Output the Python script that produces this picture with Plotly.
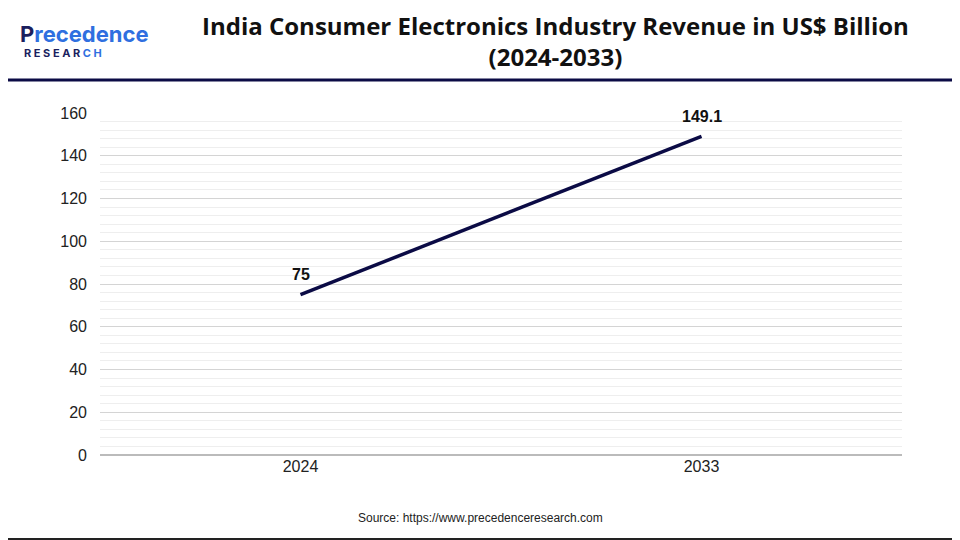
import plotly.graph_objects as go

years = ["2024", "2033"]
revenue = [75, 149.1]
labels = ["75", "149.1"]

# page body adds an 8px offset, so every position below is shifted by -8
L, T, R, B = 92, 105, 58, 85
PW, PH = 802, 342

fig = go.Figure()

fig.add_trace(go.Scatter(
    x=years, y=revenue, mode="lines",
    line=dict(color="#0b0b45", width=3.5),
    hoverinfo="none",
))
for i, (v, t) in enumerate(zip(revenue, labels)):
    fig.add_annotation(x=i, y=v, text="<b>" + t + "</b>", showarrow=False,
                       yshift=20, font=dict(family="Liberation Sans", size=16, color="#111"))

fig.update_layout(
    width=952, height=532,
    margin=dict(l=L, r=R, t=T, b=B),
    paper_bgcolor="white", plot_bgcolor="white",
    showlegend=False,
    xaxis=dict(type="category", range=[-0.5, 1.5], showgrid=False, showline=False,
               ticks="", tickfont=dict(family="Liberation Sans", size=16, color="#222")),
    yaxis=dict(range=[0, 160], dtick=20, gridcolor="#d4d4d4", gridwidth=1,
               zeroline=True, zerolinecolor="#bbb",
               minor=dict(dtick=4, showgrid=True, gridcolor="#eeeeee"),
               tickfont=dict(family="Liberation Sans", size=16, color="#222"),
               ticklabelstandoff=12),
    shapes=[
        dict(type="line", xref="paper", yref="paper", x0=-L/PW, x1=1+R/PW,
             y0=1+(T-72)/PH, y1=1+(T-72)/PH, line=dict(color="#0b0b45", width=3)),
        dict(type="line", xref="paper", yref="paper", x0=1+R/PW-0.002, x1=1+R/PW-0.002,
             y0=-B/PH, y1=1+T/PH, line=dict(color="#222", width=2)),
        dict(type="line", xref="paper", yref="paper", x0=-L/PW, x1=1+R/PW,
             y0=-B/PH+0.003, y1=-B/PH+0.003, line=dict(color="#222", width=2)),
    ],
)

fig.add_annotation(xref="paper", yref="paper", x=(547-L)/PW, y=1+(T-33)/PH,
                   text="<b>India Consumer Electronics Industry Revenue in US$ Billion<br>(2024-2033)</b>",
                   showarrow=False, font=dict(family="Open Sans", size=24, color="#111"),
                   align="center", yanchor="middle")
fig.add_annotation(xref="paper", yref="paper", x=(472-L)/PW, y=-(510-447)/PH,
                   text="Source: https://www.precedenceresearch.com", showarrow=False,
                   font=dict(family="Liberation Sans", size=12, color="#222"), yanchor="middle")
# logo as text
fig.add_annotation(xref="paper", yref="paper", x=(10-L)/PW, y=1+(T-26)/PH,
                   text="<b><span style='color:#1b1f5e'>P</span><span style='color:#2f6fe0'>recedence</span></b>",
                   showarrow=False, xanchor="left", yanchor="middle",
                   font=dict(family="Inter", size=22))
fig.add_annotation(xref="paper", yref="paper", x=(14-L)/PW, y=1+(T-45)/PH,
                   text="<b><span style='color:#1b1f5e'>R E S E A R </span><span style='color:#2f6fe0'>C H</span></b>",
                   showarrow=False, xanchor="left", yanchor="middle",
                   font=dict(family="Inter", size=11))

fig.write_html("out.html")
